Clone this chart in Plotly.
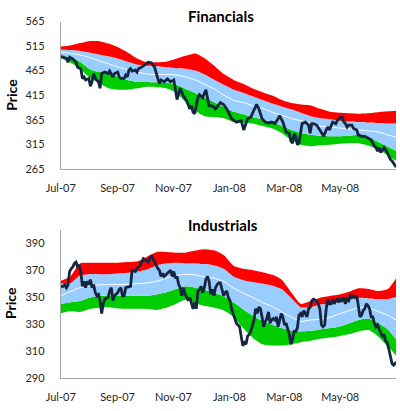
import plotly.graph_objects as go
from datetime import datetime, timedelta

START = datetime(2007, 7, 1)
END = datetime(2008, 7, 1)

tick_dates = ["2007-07-01", "2007-09-01", "2007-11-01", "2008-01-01", "2008-03-01", "2008-05-01"]
tick_labels = ["Jul-07", "Sep-07", "Nov-07", "Jan-08", "Mar-08", "May-08"]

band_days = [0, 10, 21, 31, 42, 52, 63, 73, 84, 94, 105, 115, 126, 136, 147, 157, 168, 178,
             189, 199, 210, 220, 231, 241, 252, 262, 273, 283, 294, 304, 315, 325, 336, 346, 357, 366]

fin_red_top = [514, 516, 521, 525, 525, 520, 512, 502, 489, 482, 482, 483, 489, 495, 500, 490, 474, 458,
               446, 438, 428, 421, 414, 405, 399, 396, 394, 387, 381, 379, 378, 377, 378, 380, 382, 383]
fin_red_bot = [508, 507, 505, 502, 498, 494, 489, 483, 477, 475, 474, 472, 470, 469, 465, 457, 446, 436,
               426, 420, 412, 405, 398, 392, 386, 379, 372, 368, 366, 363, 361, 360, 359, 358, 357, 357]
fin_ma = [503, 500, 497, 492, 485, 479, 472, 467, 462, 458, 457, 457, 456, 452, 446, 437, 427, 415,
          404, 400, 393, 388, 380, 374, 367, 363, 358, 352, 350, 348, 346, 344, 342, 340, 334, 329]
fin_blue_bot = [496, 492, 483, 469, 462, 459, 452, 446, 442, 442, 441, 440, 436, 428, 419, 410, 400, 391,
                381, 376, 370, 366, 360, 352, 344, 338, 334, 332, 331, 331, 332, 334, 329, 320, 310, 301]
fin_green_bot = [490, 482, 469, 452, 439, 429, 426, 426, 429, 432, 431, 429, 420, 402, 383, 372, 370, 368,
                 360, 358, 357, 352, 347, 338, 323, 314, 311, 313, 314, 316, 317, 317, 312, 305, 292, 281]

fin_days = [0.2, 2.7, 6.2, 7.9, 9.7, 13.2, 16.7, 18.4, 21.9, 23.7, 25.4, 27.2, 30.7, 32.4, 34.2, 35.9,
            37.7, 41.2, 42.9, 44.7, 48.2, 51.7, 53.4, 56.9, 58.7, 62.2, 63.9, 65.7, 69.2, 70.9, 72.7,
            74.4, 76.2, 77.9, 81.4, 83.2, 84.9, 88.4, 91.9, 95.4, 98.9, 102.4, 105.9, 107.7, 109.4,
            112.9, 116.4, 119.9, 123.4, 125.2, 126.9, 130.4, 132.2, 133.9, 137.4, 140.9, 142.7, 144.4,
            146.2, 147.9, 149.7, 151.4, 154.9, 158.4, 161.9, 165.4, 168.9, 174.2, 177.7, 181.2, 184.7,
            186.4, 191.7, 196.9, 199.7, 203.9, 207.4, 210.9, 213.7, 216.2, 219.7, 223.2, 226.7, 230.2,
            233.7, 237.2, 238.9, 242.4, 245.9, 249.4, 251.2, 252.9, 254.7, 256.4, 258.2, 259.9, 263.4,
            266.9, 270.4, 272.2, 273.9, 275.7, 279.2, 282.7, 286.9, 289.7, 291.5, 293.2, 295.0, 296.7,
            300.2, 302.0, 303.7, 305.5, 307.2, 309.0, 310.7, 312.5, 314.2, 317.7, 319.5, 323.0, 324.7,
            328.2, 331.7, 335.2, 338.7, 342.2, 344.0, 345.7, 347.5, 349.2, 351.0, 352.7, 356.2, 358.0,
            359.7, 361.5, 363.2, 365.0, 366.0]
fin_price = [494, 492, 490, 482, 492, 488.6, 482, 472, 469, 449, 452, 446, 449, 433, 442, 459,
             449, 442, 429, 459, 462, 459, 464, 452, 459, 462, 452, 449, 449, 456, 452,
             466, 469, 464, 466, 462, 469, 472, 478, 482, 481, 472, 449, 439, 446,
             442, 448, 442, 446, 423, 406, 429, 420, 413, 403, 387, 393, 380,
             377, 393, 410, 416, 410, 426, 393, 393, 387, 400, 396, 387, 373,
             367, 360, 363, 344, 367, 370, 383, 396, 387, 367, 360, 358, 360,
             357, 367, 373, 360, 340, 337, 321, 317, 337, 331, 314, 317, 357,
             360, 354, 337, 357, 357, 354, 344, 331, 344, 350, 344, 354, 360,
             357, 364, 367, 370, 370, 360, 357, 350, 354, 354, 347, 344, 334,
             331, 331, 327, 324, 311, 308, 301, 308, 298, 304, 308, 298, 291,
             284, 281, 275, 271, 273]

ind_red_top = [362, 365, 375, 375.5, 375.5, 375.5, 375.5, 376, 376.6, 380, 383.5, 383.5, 383, 383, 384.5,
               385.5, 384.5, 381, 373, 371, 370, 368.5, 366.5, 363, 353, 345, 347, 349.5, 351, 352, 354,
               356.5, 356, 354.5, 356, 364]
ind_red_bot = [360, 360, 366, 367, 367, 367, 367.5, 368, 369, 370.5, 373.7, 375, 375.5, 375, 375, 374.5,
               373.5, 371, 365, 362.5, 361, 360, 358.5, 356, 349, 342.5, 342.5, 344.5, 345, 346.5, 348,
               349.5, 349, 348.5, 348.5, 350]
ind_ma = [351, 354, 357, 358.5, 359, 359.3, 359.3, 359.5, 360, 360.5, 361.7, 364, 366, 367, 366.5, 365,
          364, 361.5, 356.5, 353, 349.5, 346, 343, 339, 335, 332, 333, 333.5, 335, 337.5, 340, 342, 342,
          339.5, 336.5, 333]
ind_blue_bot = [345, 346, 347, 349.5, 351, 351, 351, 351, 351, 351, 352, 353.5, 356, 358, 357, 355.5, 353,
                350.5, 346, 341, 336, 332.5, 329.5, 327, 325, 324.5, 325, 326, 327, 328, 330.5, 333, 334,
                331, 326, 318.5]
ind_green_bot = [338, 339.5, 339, 341, 342, 342.5, 341.5, 341.3, 341.3, 341.2, 340.5, 342, 345, 348, 345.5,
                 343.5, 342, 340, 335, 327, 319.5, 315, 314, 314, 315, 316.5, 317.5, 319, 320, 321, 322.5,
                 324.5, 325.5, 321, 313.5, 306.5]

ind_days = [0.2, 2.7, 4.4, 6.2, 7.9, 9.7, 11.4, 13.2, 14.9, 16.7, 18.4, 20.2, 21.9, 23.7, 25.4, 27.2,
            28.9, 30.7, 32.4, 34.2, 35.9, 37.7, 39.4, 41.2, 42.9, 44.7, 46.4, 48.2, 51.7, 53.4, 55.2,
            56.9, 58.7, 62.2, 63.9, 65.7, 67.4, 69.2, 70.9, 74.4, 76.2, 77.9, 81.4, 83.2, 86.7, 90.2,
            91.9, 95.4, 98.9, 100.7, 102.4, 105.9, 107.7, 109.4, 111.2, 112.9, 114.7, 116.4, 118.2,
            119.9, 121.7, 123.4, 125.2, 126.9, 128.7, 130.4, 132.2, 133.9, 135.7, 137.4, 139.2, 140.9,
            142.7, 144.4, 146.2, 147.9, 149.7, 151.4, 153.2, 154.9, 156.7, 158.4, 160.2, 161.9, 163.7,
            165.4, 167.2, 168.9, 170.7, 172.4, 174.2, 175.9, 177.7, 179.4, 181.2, 182.9, 184.7, 186.4,
            188.2, 189.9, 191.7, 193.4, 195.2, 196.9, 198.7, 200.4, 202.2, 203.9, 205.7, 207.4, 209.2,
            210.9, 212.7, 214.4, 216.2, 217.9, 219.7, 221.4, 223.2, 224.9, 226.7, 228.4, 230.2, 231.9,
            233.7, 235.4, 237.2, 238.9, 240.7, 242.4, 244.2, 245.9, 247.7, 249.4, 251.2, 252.9, 254.7,
            256.4, 258.2, 259.9, 261.7, 263.4, 265.2, 266.9, 268.7, 270.4, 272.2, 273.9, 275.7, 279.2,
            281.0, 282.7, 284.5, 286.2, 288.0, 289.7, 291.5, 293.2, 295.0, 296.7, 298.5, 300.2, 302.0,
            303.7, 305.5, 307.2, 309.0, 310.7, 312.5, 314.2, 316.0, 317.7, 319.5, 321.2, 323.0, 324.7,
            326.5, 328.2, 330.0, 331.7, 333.5, 335.2, 337.0, 338.7, 340.5, 342.2, 344.0, 345.7, 347.5,
            349.2, 351.0, 352.7, 354.5, 356.2, 358.0, 359.7, 361.5, 363.2, 365.0, 366.0]
ind_price = [358, 358, 359, 357, 359, 369, 371, 372.5, 375, 376, 372.5, 373.7, 369, 358, 361.7, 357,
             361.7, 359.3, 363, 357, 359.3, 353.3, 351, 352, 347.3, 337.7, 345, 348.5, 349.7, 354.5, 357,
             347.3, 351, 353.3, 355.7, 357, 351, 351, 357, 358, 358, 370, 369, 371.3, 373.7, 378.5,
             377.5, 376, 381, 378.5, 376, 371.3, 370, 365.3, 367.7, 365.3, 366.5, 367.7, 369,
             370, 365.3, 369, 364, 365.3, 359.3, 357, 351, 357, 352, 349.7, 347.3, 349.7,
             346, 341.3, 346, 341.3, 354.5, 355.7, 358, 353.3, 357, 363, 365.3, 361.7, 352,
             355.7, 351, 357, 359.3, 360.5, 360.5, 355.7, 351, 353.3, 354.5, 349.7, 347.3, 341.3,
             337.8, 335.3, 330.6, 329.3, 328, 321, 313.8, 316.2, 315, 321, 322.2, 324.6, 329.3,
             333, 341.3, 337.8, 342.5, 341.3, 335.3, 328, 331.8, 334, 339, 330.6, 333, 334,
             333, 335.3, 328, 333, 337.8, 335.3, 329.3, 330.6, 327, 322.2, 315, 318.6, 324.6,
             324.6, 327, 336.5, 337.8, 335.3, 340, 337.8, 335.3, 341.3, 342.5, 347.3, 348.5, 347.3,
             345, 341.3, 329.3, 328, 329.3, 341.3, 348.5, 345, 345, 348.5, 345, 347.3, 348.5,
             346, 348.5, 347.3, 349.7, 345, 348.5, 347.3, 351, 349.7, 351, 349.7, 351, 343.7,
             335.3, 336.5, 340, 341.3, 345, 343.7, 341.3, 335.3, 335.3, 330.6, 328, 329.3, 325.8,
             323.4, 321, 322.2, 317.4, 316.2, 311.4, 306.6, 300.6, 299.4, 300.6, 301.8]

RED = "#FF0000"
BLUE = "#99CCFF"
GREEN = "#00CC00"
NAVY = "#17263F"


def to_dates(days):
    return [START + timedelta(days=d) for d in days]


fig = go.Figure()


def add_panel(xa, ya, rt, rb, ma, bb, gb, pdays, price):
    bd = to_dates(band_days)
    common = dict(xaxis=xa, yaxis=ya, mode="lines", hoverinfo="skip", showlegend=False)
    sp = dict(shape="spline", smoothing=0.6, width=0)
    fig.add_trace(go.Scatter(x=bd, y=gb, line=sp, **common))
    fig.add_trace(go.Scatter(x=bd, y=bb, line=sp, fill="tonexty", fillcolor=GREEN, **common))
    fig.add_trace(go.Scatter(x=bd, y=rb, line=sp, fill="tonexty", fillcolor=BLUE, **common))
    fig.add_trace(go.Scatter(x=bd, y=rt, line=sp, fill="tonexty", fillcolor=RED, **common))
    fig.add_trace(go.Scatter(x=bd, y=ma, line=dict(color="white", width=1, shape="spline", smoothing=0.6), **common))
    fig.add_trace(go.Scatter(x=to_dates(pdays), y=price, line=dict(color=NAVY, width=2.8), **common))


add_panel("x", "y", fin_red_top, fin_red_bot, fin_ma, fin_blue_bot, fin_green_bot, fin_days, fin_price)
add_panel("x2", "y2", ind_red_top, ind_red_bot, ind_ma, ind_blue_bot, ind_green_bot, ind_days, ind_price)

W, H = 400, 411
FONT = "Lato"
TICKFONT = dict(family=FONT, size=11, color="#262626")

xcommon = dict(type="date", range=[START, END], tickvals=tick_dates, ticktext=tick_labels,
               showline=True, linecolor="#A6A6A6", linewidth=1, showgrid=False, zeroline=False,
               ticks="", tickfont=TICKFONT, ticklabelstandoff=9, fixedrange=True)
ycommon = dict(showline=True, linecolor="#A6A6A6", linewidth=1, showgrid=False, zeroline=False,
               ticks="", tickfont=TICKFONT, ticklabelstandoff=13, fixedrange=True)

xd = [47.5 / W, 396 / W]
fig.update_layout(
    width=W, height=H, margin=dict(l=0, r=0, t=0, b=0),
    paper_bgcolor="white", plot_bgcolor="white", showlegend=False,
    xaxis=dict(domain=xd, anchor="y", **xcommon),
    yaxis=dict(domain=[1 - 167 / H, 1 - 15 / H], anchor="x", range=[265, 565],
               tickvals=[265, 315, 365, 415, 465, 515, 565], **ycommon),
    xaxis2=dict(domain=xd, anchor="y2", **xcommon),
    yaxis2=dict(domain=[1 - 383 / H, 1 - 230 / H], anchor="x2", range=[290, 400],
                tickvals=[290, 310, 330, 350, 370, 390], **ycommon),
)

ann = [
    dict(text="<b>Financials</b>", x=214 / W, y=1 - 9 / H),
    dict(text="<b>Industrials</b>", x=216 / W, y=1 - 225 / H),
]
for a in ann:
    fig.add_annotation(xref="paper", yref="paper", showarrow=False, xanchor="center", yanchor="middle",
                       font=dict(family=FONT, size=15, color="black"), **a)
for yc in (91, 306):
    fig.add_annotation(text="<b>Price</b>", xref="paper", yref="paper", x=8 / W, y=1 - yc / H,
                       showarrow=False, textangle=-90, xanchor="center", yanchor="middle", xshift=-12,
                       font=dict(family=FONT, size=14, color="black"))

fig.write_html("out.html")
